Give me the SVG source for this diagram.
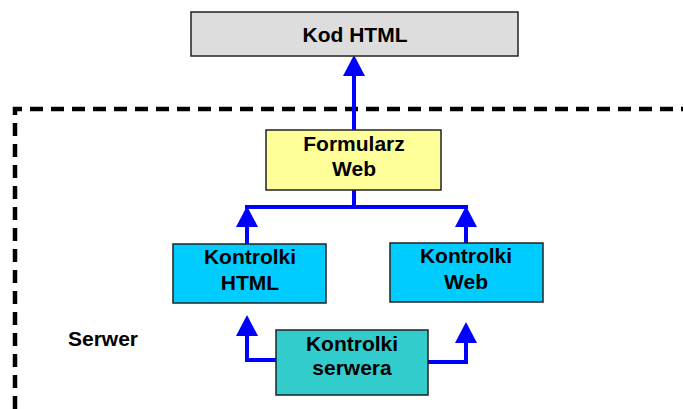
<svg xmlns="http://www.w3.org/2000/svg" width="683" height="409" viewBox="0 0 683 409">
<style>
.box{stroke:#222;stroke-width:1.5}
.t{font-family:"Liberation Sans",Arial,sans-serif;font-weight:bold;font-size:21px;fill:#000;text-anchor:middle}
.c{fill:none;stroke:#0000ff;stroke-width:4}
.dash{fill:none;stroke:#000;stroke-width:4.5;stroke-dasharray:13 8}
</style>
<defs>
<marker id="ah" markerUnits="userSpaceOnUse" markerWidth="22" markerHeight="24" refX="0" refY="11" viewBox="0 0 22 22" orient="auto" overflow="visible">
<path d="M0,0 L21,11 L0,22 z" fill="#0000ff"/>
</marker>
</defs>
<rect width="683" height="409" fill="#fff"/>
<path class="dash" d="M15,409 V109 H683"/>
<g id="connectors">
<path class="c" d="M354,130 V76" marker-end="url(#ah)"/>
<path class="c" d="M354,190 V207 M245,207 H468"/>
<path class="c" d="M247,244 V227" marker-end="url(#ah)"/>
<path class="c" d="M466,243 V227" marker-end="url(#ah)"/>
<path class="c" d="M276,360 H247 V336" marker-end="url(#ah)"/>
<path class="c" d="M428,362 H466 V343" marker-end="url(#ah)"/>
</g>
<g id="kod-html">
<rect class="box" x="191" y="12" width="327" height="44" fill="#dddddd"/>
<text class="t" x="355" y="42">Kod HTML</text>
</g>
<g id="formularz-web">
<rect class="box" x="266" y="130" width="175" height="60" fill="#ffff99"/>
<text class="t" x="354" y="151">Formularz</text>
<text class="t" x="354" y="176">Web</text>
</g>
<g id="kontrolki-html">
<rect class="box" x="173" y="244" width="153" height="59" fill="#00ccff"/>
<text class="t" x="250" y="264">Kontrolki</text>
<text class="t" x="250" y="290">HTML</text>
</g>
<g id="kontrolki-web">
<rect class="box" x="390" y="243" width="153" height="59" fill="#00ccff"/>
<text class="t" x="466" y="263">Kontrolki</text>
<text class="t" x="466" y="289">Web</text>
</g>
<g id="kontrolki-serwera">
<rect class="box" x="276" y="330" width="152" height="65" fill="#33cccc"/>
<text class="t" x="352" y="351">Kontrolki</text>
<text class="t" x="352" y="375">serwera</text>
</g>
<g id="serwer">
<text class="t" x="103" y="346">Serwer</text>
</g>
</svg>
